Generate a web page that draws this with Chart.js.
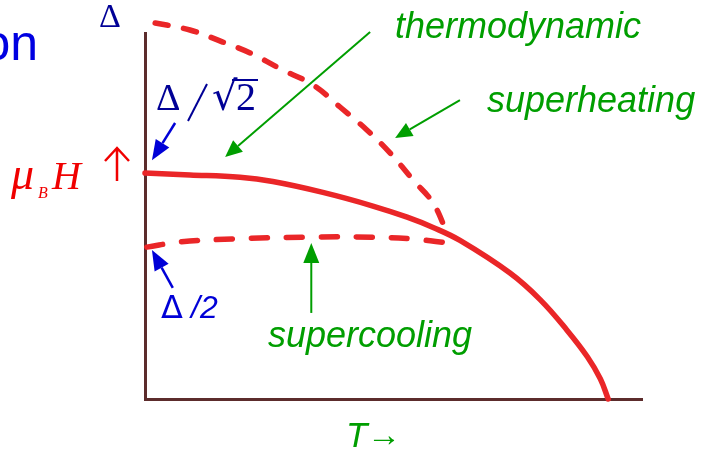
<!DOCTYPE html>
<html>
<head>
<meta charset="utf-8">
<title>Critical fields</title>
<script src="https://cdn.jsdelivr.net/npm/chart.js@4.4.1/dist/chart.umd.min.js"></script>
<style>
  html, body { margin: 0; padding: 0; background: #fff; }
  #wrap { width: 716px; height: 452px; position: relative; }
</style>
</head>
<body>
<div id="wrap"><canvas id="phase"></canvas></div>
<script>
// temperature in units of Tc, field in units of the gap
const tMax = 1.073;
const hMax = 1.212;

// thermodynamic critical field (solid)
const thermoT = [0, 0.097, 0.205, 0.276, 0.384, 0.492, 0.566, 0.622, 0.680, 0.788, 0.853, 0.911, 0.955, 0.983, 1.0];
const thermoH = [0.748, 0.742, 0.734, 0.720, 0.684, 0.639, 0.602, 0.568, 0.525, 0.417, 0.329, 0.228, 0.140, 0.067, 0];

// superheating branch (dashed, upper)
const heatT = [0.022, 0.097, 0.168, 0.227, 0.298, 0.363, 0.421, 0.479, 0.529, 0.579, 0.622, 0.652];
const heatH = [1.245, 1.222, 1.182, 1.146, 1.089, 1.040, 0.967, 0.891, 0.815, 0.725, 0.649, 0.550];

// supercooling branch (dashed, lower)
const coolT = [0.004, 0.076, 0.190, 0.350, 0.492, 0.579, 0.637, 0.654];
const coolH = [0.503, 0.520, 0.530, 0.536, 0.536, 0.530, 0.520, 0.517];

const toPoints = (xs, ys) => xs.map((x, i) => ({ x: x, y: ys[i] }));

const RED = 'rgb(234, 38, 40)';
const GREEN = 'rgb(0, 158, 0)';
const BLUE = 'rgb(0, 0, 215)';
const NAVY = 'rgb(0, 0, 150)';
const AXIS = 'rgb(92, 44, 44)';

function arrow(ctx, x1, y1, x2, y2, color, width, headLen, headW) {
    const a = Math.atan2(y2 - y1, x2 - x1);
    const bx = x2 - headLen * Math.cos(a);
    const by = y2 - headLen * Math.sin(a);
    ctx.save();
    ctx.strokeStyle = color;
    ctx.fillStyle = color;
    ctx.lineWidth = width;
    ctx.beginPath();
    ctx.moveTo(x1, y1);
    ctx.lineTo(bx, by);
    ctx.stroke();
    ctx.beginPath();
    ctx.moveTo(x2, y2);
    ctx.lineTo(bx + headW / 2 * Math.sin(a), by - headW / 2 * Math.cos(a));
    ctx.lineTo(bx - headW / 2 * Math.sin(a), by + headW / 2 * Math.cos(a));
    ctx.closePath();
    ctx.fill();
    ctx.restore();
}

// labels and pointer arrows
const annotations = {
    id: 'annotations',
    afterDraw(chart) {
        const ctx = chart.ctx;
        const sx = chart.scales.x, sy = chart.scales.y;
        const px = v => sx.getPixelForValue(v);
        const py = v => sy.getPixelForValue(v);

        // pointer arrows, tail -> tip in data units
        arrow(ctx, px(0.486), py(1.215), px(0.173), py(0.801), GREEN, 2, 17, 15);
        arrow(ctx, px(0.680), py(0.990), px(0.540), py(0.864), GREEN, 2, 17, 15);
        arrow(ctx, px(0.359), py(0.285), px(0.359), py(0.517), GREEN, 2, 20, 16);
        arrow(ctx, px(0.065), py(0.914), px(0.015), py(0.791), BLUE, 2.5, 20, 16);
        arrow(ctx, px(0.060), py(0.368), px(0.015), py(0.493), BLUE, 2.5, 20, 16);

        ctx.save();
        ctx.textBaseline = 'alphabetic';

        // cut-off heading fragment
        ctx.fillStyle = 'rgb(0, 0, 225)';
        ctx.font = '50px "Liberation Sans", Arial, sans-serif';
        ctx.textAlign = 'right';
        ctx.fillText('on', 38, 60);
        ctx.textAlign = 'left';

        // gap symbols
        ctx.fillStyle = NAVY;
        ctx.font = '34px "Liberation Serif", "Times New Roman", serif';
        ctx.fillText('\u0394', 99, 27);

        ctx.font = '38px "Liberation Serif", "Times New Roman", serif';
        ctx.fillText('\u0394', 156, 110);
        ctx.strokeStyle = NAVY;
        ctx.lineWidth = 2;
        ctx.beginPath();
        ctx.moveTo(207, 84);
        ctx.lineTo(188, 121);
        ctx.stroke();
        ctx.font = '40px "DejaVu Serif", "Liberation Serif", serif';
        ctx.fillText('\u221A', 212, 110);
        ctx.font = '40px "Liberation Serif", "Times New Roman", serif';
        ctx.fillText('2', 236, 110);
        ctx.lineWidth = 2;
        ctx.beginPath();
        ctx.moveTo(232, 80);
        ctx.lineTo(258, 80);
        ctx.stroke();

        ctx.fillStyle = BLUE;
        ctx.font = '32px "DejaVu Sans", "Liberation Sans", sans-serif';
        ctx.fillText('\u0394', 161, 318);
        ctx.font = 'italic 32px "Liberation Sans", Arial, sans-serif';
        ctx.fillText('/2', 191, 318);

        // field axis label
        ctx.fillStyle = 'rgb(240, 0, 0)';
        ctx.font = 'italic 46px "Liberation Serif", "Times New Roman", serif';
        ctx.fillText('\u03BC', 11, 189);
        ctx.font = 'italic 16px "Liberation Serif", "Times New Roman", serif';
        ctx.fillText('B', 38, 198);
        ctx.font = 'italic 40px "Liberation Serif", "Times New Roman", serif';
        ctx.fillText('H', 52, 189);
        ctx.strokeStyle = 'rgb(240, 0, 0)';
        ctx.lineWidth = 2.5;
        ctx.beginPath();
        ctx.moveTo(117, 181);
        ctx.lineTo(117, 148);
        ctx.moveTo(105, 161);
        ctx.lineTo(117, 148);
        ctx.lineTo(129, 161);
        ctx.stroke();

        // curve names
        ctx.fillStyle = GREEN;
        ctx.font = 'italic 36px "Liberation Sans", Arial, sans-serif';
        ctx.fillText('thermodynamic', 395, 38);
        ctx.fillText('superheating', 487, 112);
        ctx.fillText('supercooling', 268, 347);
        ctx.font = 'italic 35px "Liberation Sans", Arial, sans-serif';
        ctx.fillText('T', 346, 447);
        ctx.font = '34px "Liberation Serif", "Times New Roman", serif';
        ctx.fillText('\u2192', 367, 446);
        ctx.restore();
    }
};

new Chart(document.getElementById('phase'), {
    type: 'scatter',
    data: {
        datasets: [
            {
                label: 'thermodynamic',
                data: toPoints(thermoT, thermoH),
                showLine: true,
                borderColor: RED,
                borderWidth: 5.5,
                borderCapStyle: 'round',
                pointRadius: 0,
                tension: 0.4,
                clip: false
            },
            {
                label: 'superheating',
                data: toPoints(heatT, heatH),
                showLine: true,
                borderColor: RED,
                borderWidth: 5.5,
                borderDash: [13, 16],
                borderCapStyle: 'round',
                pointRadius: 0,
                tension: 0.4,
                clip: false
            },
            {
                label: 'supercooling',
                data: toPoints(coolT, coolH),
                showLine: true,
                borderColor: RED,
                borderWidth: 5.5,
                borderDash: [16, 19],
                borderCapStyle: 'round',
                pointRadius: 0,
                tension: 0.4,
                clip: false
            }
        ]
    },
    options: {
        responsive: true,
        maintainAspectRatio: false,
        animation: false,
        layout: { padding: { left: 145, right: 74, top: 33, bottom: 53 } },
        plugins: {
            legend: { display: false },
            tooltip: { enabled: false }
        },
        scales: {
            x: {
                type: 'linear',
                min: 0,
                max: tMax,
                ticks: { display: false },
                grid: { display: false, drawTicks: false },
                border: { display: true, color: AXIS, width: 3 }
            },
            y: {
                type: 'linear',
                min: 0,
                max: hMax,
                ticks: { display: false },
                grid: { display: false, drawTicks: false },
                border: { display: true, color: AXIS, width: 3 }
            }
        }
    },
    plugins: [annotations]
});
</script>
</body>
</html>
